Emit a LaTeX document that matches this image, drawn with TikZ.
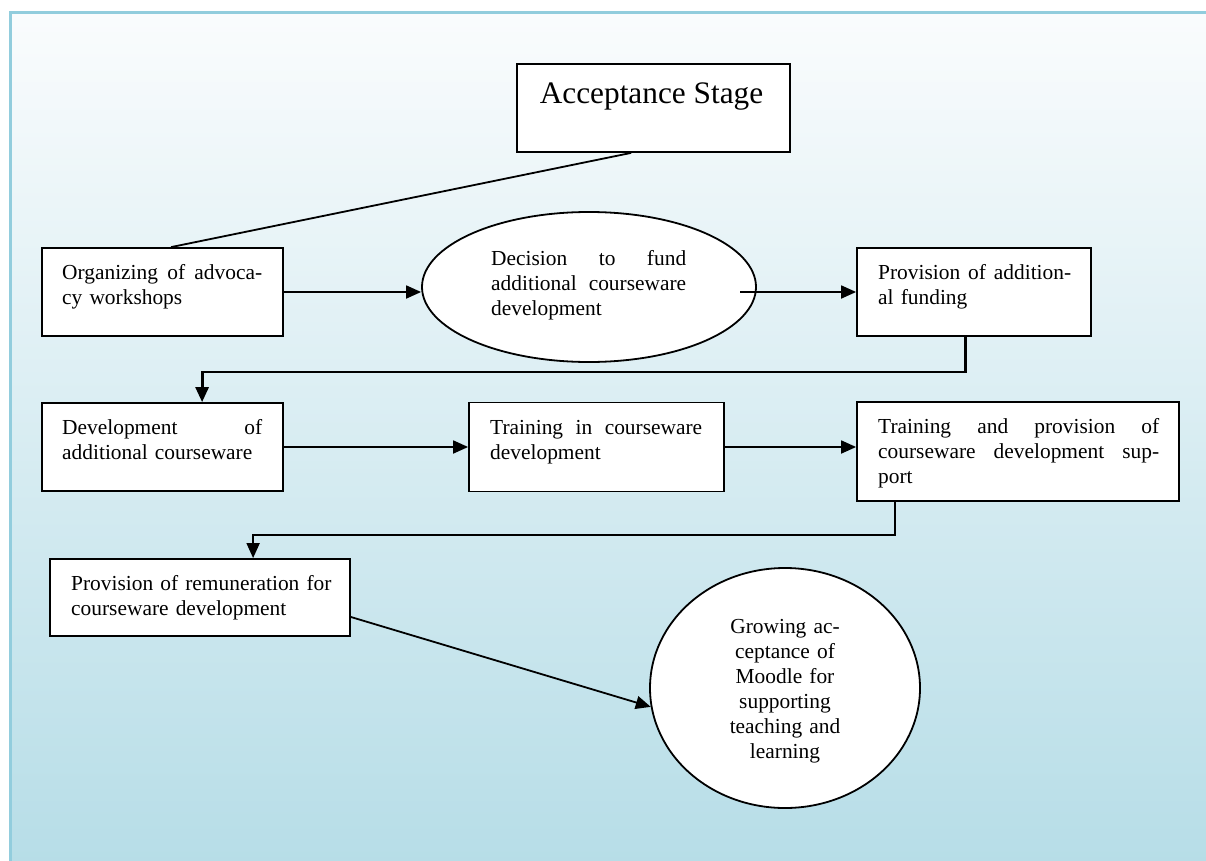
\documentclass[tikz,border=0pt]{standalone}
\usepackage{fontspec}
\setmainfont{Liberation Serif}
\usetikzlibrary{arrows.meta,shapes.geometric,calc}
\definecolor{framec}{RGB}{146,205,221}
\definecolor{bgtop}{RGB}{250,252,253}
\definecolor{bgbot}{RGB}{182,221,231}
\newcommand\jl[2]{\leavevmode\hbox to #1{\spaceskip=0.25em plus 1fil\relax #2}}
\begin{document}
\begin{tikzpicture}[x=1pt,y=-1pt,
  box/.style={draw,fill=white,line width=1.8pt,inner sep=0pt},
  txt/.style={anchor=north west,inner sep=0pt,align=left,font=\fontsize{21.4}{25}\selectfont},
  conn/.style={line width=1.8pt},
  arr/.style={line width=1.8pt,-{Triangle[length=15pt,width=13pt]}},
  thickarr/.style={line width=2.8pt,-{Triangle[length=15pt,width=13pt]}}]
\useasboundingbox (0,0) rectangle (1206,861);
\shade[top color=bgtop,bottom color=bgbot] (10.5,12.5) rectangle (1215,870);
\draw[framec,line width=3pt] (10.5,870) -- (10.5,12.5) -- (1215,12.5);

% boxes
\node[box,minimum width=273pt,minimum height=88pt] (acc) at (653.5,108) {};
\node[box,minimum width=241pt,minimum height=88pt] (org) at (162.5,292) {};
\node[box,ellipse,minimum width=334pt,minimum height=150pt] (dec) at (589,287) {};
\node[box,minimum width=234pt,minimum height=88pt] (fund) at (974,292) {};
\node[box,minimum width=241pt,minimum height=88pt] (dev) at (162.5,447) {};
\node[box,minimum width=255pt,minimum height=89pt] (train) at (596.5,447) {};
\node[box,minimum width=322pt,minimum height=99pt] (sup) at (1018,451.5) {};
\node[box,minimum width=300pt,minimum height=77pt] (rem) at (200,597.5) {};
\node[box,ellipse,minimum width=270pt,minimum height=240pt] (grow) at (785,688) {};

% texts
\node[anchor=base,inner sep=0pt,font=\fontsize{31.3}{36}\selectfont] (acct) at (651.5,104) {Acceptance Stage};
\node[txt,text width=200pt] (orgt) at (62,261.5) {\strut\jl{200pt}{Organizing of advoca-}\\cy workshops};
\node[txt,text width=195pt] (dect) at (491,247.5) {\strut\jl{195pt}{Decision to fund}\\\jl{195pt}{additional courseware}\\development};
\node[txt,text width=193pt] (fundt) at (878,261.5) {\strut\jl{193pt}{Provision of addition-}\\al funding};
\node[txt,text width=200pt] (devt) at (62,416.5) {\strut\jl{200pt}{Development of}\\additional courseware};
\node[txt,text width=212pt] (traint) at (490,416.5) {\strut\jl{212pt}{Training in courseware}\\development};
\node[txt,text width=281pt] (supt) at (878,415.5) {\strut\jl{281pt}{Training and provision of}\\\jl{281pt}{courseware development sup-}\\port};
\node[txt,text width=270pt] (remt) at (71,572.5) {\strut Provision of remuneration for\\courseware development};
\node[txt,anchor=north,align=center,text width=160pt] (growt) at (785,615.5) {\strut Growing ac-\\ceptance of\\Moodle for\\supporting\\teaching and\\learning};

% connectors
\coordinate (dstart) at (740,292);
\draw[conn] ($(acc.south west)+(115,0)$) -- ($(org.north west)+(130,0)$);
\draw[arr] (org.east) -- (org.east -| dec.west);
\draw[arr] (dstart) -- (fund.west);
\draw[thickarr] ($(fund.south west)+(109,0)$) -- ++(0,35) -| ($(dev.north west)+(161,0)$);
\draw[arr] (dev.east) -- (dev.east -| train.west);
\draw[arr] (train.east) -- (train.east -| sup.west);
\draw[arr] ($(sup.south west)+(39,0)$) -- ++(0,33) -| ($(rem.north west)+(204,0)$);
\draw[arr] ([yshift=-19.5pt]rem.east) -- (grow.188);
\end{tikzpicture}
\end{document}
